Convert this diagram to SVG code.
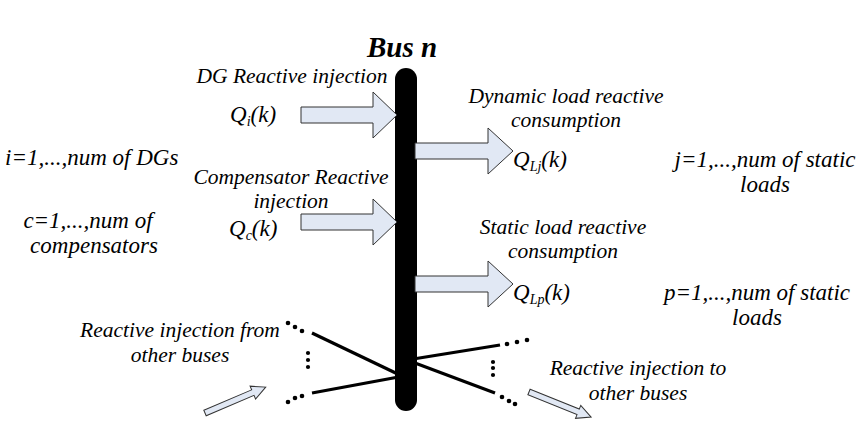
<svg xmlns="http://www.w3.org/2000/svg" width="864" height="423" viewBox="0 0 864 423">
<style>
.t{font-family:"Liberation Serif","Times New Roman",serif;font-style:italic;font-size:21.5px;fill:#000}
.p{font-size:23px}
.m{text-anchor:middle}
.q{font-family:"Liberation Serif","Times New Roman",serif;font-style:italic;font-size:23px;fill:#000}
.s{font-size:14px}
.ar{fill:#e1e8f4;stroke:#333;stroke-width:1}
.ln{stroke:#000;stroke-width:3.2;fill:none}
.dot{fill:#000}
</style>
<rect width="864" height="423" fill="#fff"/>
<text x="402" y="57" class="t m" style="font-weight:bold;font-size:29px">Bus n</text>

<g id="connectors">
<line class="ln" x1="312" y1="333" x2="404" y2="377"/>
<line class="ln" x1="312" y1="393" x2="404" y2="376"/>
<line class="ln" x1="407" y1="360" x2="500" y2="345"/>
<line class="ln" x1="407" y1="360" x2="495" y2="393"/>
<g class="dot">
<circle cx="288" cy="323" r="2.3"/><circle cx="295" cy="327" r="2.3"/><circle cx="302" cy="331" r="2.3"/>
<circle cx="308" cy="353" r="2.1"/><circle cx="308" cy="360" r="2.1"/><circle cx="308" cy="367" r="2.1"/>
<circle cx="288" cy="402" r="2.3"/><circle cx="295" cy="398" r="2.3"/><circle cx="302" cy="396" r="2.3"/>
<circle cx="507" cy="344" r="2.3"/><circle cx="517" cy="342" r="2.3"/><circle cx="527" cy="340" r="2.3"/>
<circle cx="493" cy="362" r="2.1"/><circle cx="493" cy="368" r="2.1"/><circle cx="493" cy="375" r="2.1"/>
<circle cx="502" cy="397" r="2.3"/><circle cx="509" cy="401" r="2.3"/><circle cx="515" cy="404" r="2.3"/>
</g>
<polygon class="ar" transform="translate(205,413) rotate(-23.1)" points="0,-3 52,-3 52,-7 66,0 52,7 52,3 0,3"/>
<polygon class="ar" transform="translate(529,392) rotate(22)" points="0,-3 53,-3 53,-7 67,0 53,7 53,3 0,3"/>
</g>

<g id="bus">
<rect x="395" y="68" width="22" height="343" rx="11" fill="#000"/>
</g>

<g id="dg">
<polygon class="ar" points="301,107 373,107 373,92 397,115 373,138 373,123 301,123"/>
<text x="292" y="83" class="t m">DG Reactive injection</text>
<text x="230" y="122" class="q">Q<tspan class="s" dy="4">i</tspan><tspan dy="-4">(k)</tspan></text>
<text x="5" y="165" class="t p">i=1,...,num of DGs</text>
</g>

<g id="compensator">
<polygon class="ar" points="301,214 373,214 373,199 397,222 373,245 373,230 301,230"/>
<text x="291" y="184" class="t m">Compensator Reactive</text>
<text x="291" y="208" class="t m">injection</text>
<text x="229" y="236" class="q">Q<tspan class="s" dy="4">c</tspan><tspan dy="-4">(k)</tspan></text>
<text x="88" y="228" class="t p m">c=1,...,num of</text>
<text x="94" y="253" class="t p m">compensators</text>
</g>

<g id="dynamic-load">
<polygon class="ar" points="415,143 488,143 488,128 513,151 488,174 488,159 415,159"/>
<text x="566" y="103" class="t m">Dynamic load reactive</text>
<text x="566" y="127" class="t m">consumption</text>
<text x="513" y="167" class="q">Q<tspan class="s" dy="4">Lj</tspan><tspan dy="-4">(k)</tspan></text>
<text x="765" y="167" class="t p m">j=1,...,num of static</text>
<text x="765" y="192" class="t p m">loads</text>
</g>

<g id="static-load">
<polygon class="ar" points="415,276 488,276 488,261 513,284 488,307 488,292 415,292"/>
<text x="563" y="234" class="t m">Static load reactive</text>
<text x="563" y="258" class="t m">consumption</text>
<text x="513" y="300" class="q">Q<tspan class="s" dy="4">Lp</tspan><tspan dy="-4">(k)</tspan></text>
<text x="757" y="300" class="t p m">p=1,...,num of static</text>
<text x="757" y="325" class="t p m">loads</text>
</g>

<g id="from-buses">
<text x="180" y="337" class="t m">Reactive injection from</text>
<text x="180" y="362" class="t m">other buses</text>
</g>

<g id="to-buses">
<text x="638" y="375" class="t m">Reactive injection to</text>
<text x="638" y="400" class="t m">other buses</text>
</g>
</svg>
